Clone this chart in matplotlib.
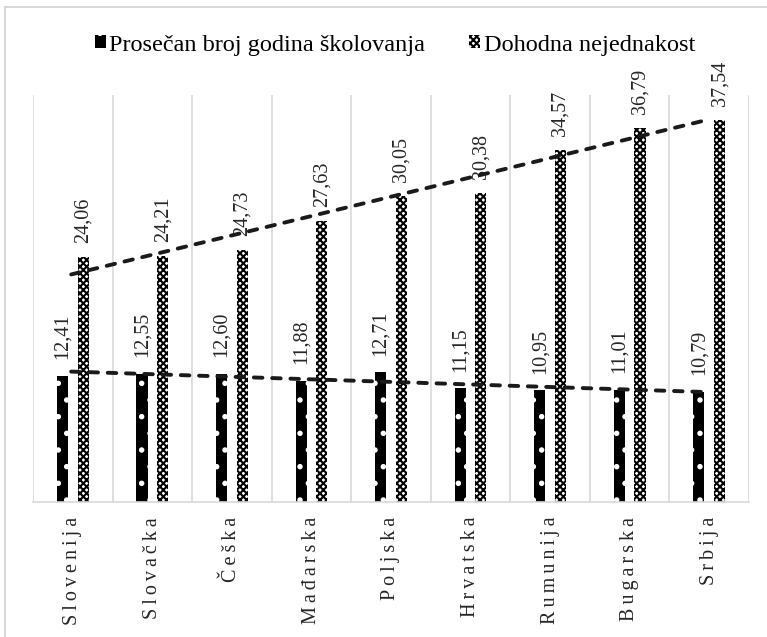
import numpy as np
import matplotlib.pyplot as plt
from matplotlib.lines import Line2D

## data
zemlje = ['Slovenija', 'Slovačka', 'Češka', 'Mađarska', 'Poljska',
          'Hrvatska', 'Rumunija', 'Bugarska', 'Srbija']
skolovanje = [12.41, 12.55, 12.60, 11.88, 12.71, 11.15, 10.95, 11.01, 10.79]
nejednakost = [24.06, 24.21, 24.73, 27.63, 30.05, 30.38, 34.57, 36.79, 37.54]
ime1 = 'Prosečan broj godina školovanja'
ime2 = 'Dohodna nejednakost'

plt.rcParams['font.family'] = ['Liberation Serif', 'DejaVu Serif']
plt.rcParams['hatch.linewidth'] = 1.5

W, H = 767, 637
fig = plt.figure(figsize=(W / 100, H / 100), dpi=100)
ax = fig.add_axes([33 / W, 1 - 501.7 / H, (749 - 33) / W, (501.7 - 95) / H])

x = np.arange(1, len(zemlje) + 1)
bw = 0.14
off = 0.13
txt = '#262626'

b1 = ax.bar(x - off, skolovanje, bw, color='black', edgecolor='white',
            linewidth=0, hatch='.', label=ime1, zorder=2)
b2 = ax.bar(x + off, nejednakost, bw, color='white', edgecolor='black',
            linewidth=0, hatch='xxxxx', label=ime2, zorder=2)

## data labels, rotated
for xi, v in zip(x - off, skolovanje):
    ax.annotate(f'{v:.2f}'.replace('.', ','), (xi, v), xytext=(0, 12),
                textcoords='offset points', rotation=90, ha='center',
                va='bottom', fontsize=14.5, color=txt)
for xi, v in zip(x + off, nejednakost):
    ax.annotate(f'{v:.2f}'.replace('.', ','), (xi, v), xytext=(0, 10),
                textcoords='offset points', rotation=90, ha='center',
                va='bottom', fontsize=14.5, color=txt)

## linear trendlines (like excel)
x0, x1 = x[0] - 0.02, x[-1] - 0.05
for ys in [skolovanje, nejednakost]:
    k, n = np.polyfit(x, ys, 1)
    ax.plot([x0, x1], [k * x0 + n, k * x1 + n],
            color='#1a1a1a', lw=2.8, ls=(0, (2.2, 2.5)), dash_capstyle='round',
            zorder=3)

ax.set_xlim(0.5, len(zemlje) + 0.5)
ax.set_ylim(0, 40)
ax.set_yticks([])
ax.set_xticks(x)
ax.set_xticklabels(['\u2009'.join(z) for z in zemlje], rotation=90, fontsize=14.5,
                   color=txt, va='top', ha='center')
ax.tick_params(axis='x', length=0, pad=11)
for b in np.arange(0.5, len(zemlje) + 1, 1.0):
    ax.axvline(b, color='#d9d9d9', lw=1.2, zorder=0)
for s in ['top', 'left', 'right']:
    ax.spines[s].set_visible(False)
ax.spines['bottom'].set_color('#d9d9d9')
ax.spines['bottom'].set_linewidth(1.2)

## legend
fig.legend(handles=[b1, b2], loc='center', bbox_to_anchor=(395 / W, 1 - 45 / H),
           ncol=2, frameon=False, fontsize=17.5, handlelength=0.45,
           handleheight=0.45, handletextpad=0.15, columnspacing=1.8,
           labelcolor='black')

## chart area border (left and top visible)
fig.add_artist(Line2D([5 / W, 5 / W], [0, 1 - 6.5 / H], color='#d9d9d9', lw=1.5,
                      transform=fig.transFigure))
fig.add_artist(Line2D([5 / W, 1], [1 - 6.5 / H, 1 - 6.5 / H], color='#d9d9d9', lw=1.5,
                      transform=fig.transFigure))

fig.savefig('out.png', dpi=100)
